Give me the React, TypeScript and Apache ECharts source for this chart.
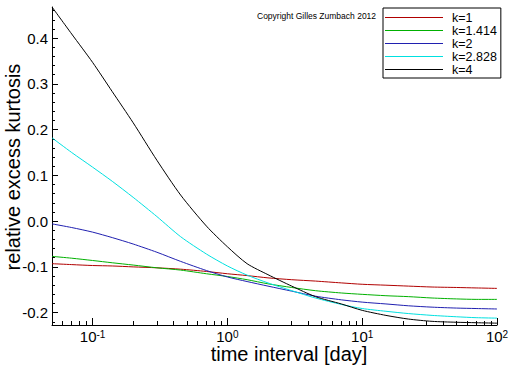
import React, { useEffect, useRef } from "react";
import * as echarts from "echarts";

const FONT = "'Liberation Sans', Arial, Helvetica, sans-serif";

// time interval [day]
const times = [0.05, 0.07, 0.1, 0.14, 0.2, 0.3, 0.45, 0.7, 1, 1.4, 2, 3, 4.5, 7, 10, 15, 22, 33, 50, 70, 100];

const k1 = [-0.093, -0.095, -0.097, -0.098, -0.1, -0.102, -0.105, -0.11, -0.115, -0.119, -0.124, -0.128, -0.131, -0.135, -0.138, -0.14, -0.142, -0.144, -0.145, -0.146, -0.147];
const k1414 = [-0.077, -0.081, -0.086, -0.091, -0.096, -0.102, -0.107, -0.115, -0.121, -0.128, -0.137, -0.145, -0.152, -0.157, -0.16, -0.163, -0.165, -0.168, -0.17, -0.171, -0.171];
const k2 = [-0.006, -0.014, -0.024, -0.036, -0.05, -0.068, -0.088, -0.108, -0.122, -0.132, -0.142, -0.153, -0.164, -0.172, -0.177, -0.181, -0.185, -0.188, -0.19, -0.191, -0.192];
const k2828 = [0.182, 0.15, 0.118, 0.087, 0.052, 0.01, -0.034, -0.072, -0.098, -0.118, -0.135, -0.152, -0.168, -0.182, -0.191, -0.197, -0.202, -0.206, -0.209, -0.211, -0.212];
const k4 = [0.468, 0.409, 0.347, 0.283, 0.215, 0.133, 0.057, -0.011, -0.056, -0.093, -0.117, -0.142, -0.165, -0.181, -0.195, -0.206, -0.214, -0.219, -0.221, -0.222, -0.223];

const seriesNames = ["k=1", "k=1.414", "k=2", "k=2.828", "k=4"];
const seriesValues = [k1, k1414, k2, k2828, k4];
const seriesColors = ["#b00000", "#00b000", "#2020b0", "#00e0e0", "#000000"];

const xDecades = [-1, 0, 1, 2]; // tick labels 10^-1 .. 10^2
const yLabels = [-0.2, -0.1, 0.0, 0.1, 0.2, 0.3, 0.4];

const X_MIN = 0.05;
const X_MAX = 100;
const Y_MIN = -0.227;
const Y_MAX = 0.468;

export default function App() {
  const ref = useRef<HTMLDivElement>(null);

  useEffect(() => {
    if (!ref.current) return;
    const chart = echarts.init(ref.current, undefined, { renderer: "svg" });

    const xMin = Math.log10(X_MIN);
    const xMax = Math.log10(X_MAX);

    const xMinor: number[] = [];
    for (let d = -2; d <= 1; d++) {
      for (let m = 2; m <= 9; m++) {
        const v = Math.log10(m * Math.pow(10, d));
        if (v > xMin && v < xMax) xMinor.push(v);
      }
    }
    const yMinor: number[] = [];
    for (let i = -11; i <= 23; i++) {
      const v = Math.round(i * 0.02 * 1000) / 1000;
      if (v >= Y_MIN && v <= Y_MAX) yMinor.push(v);
    }

    const axisLineStyle = { color: "#000", width: 1 };

    chart.setOption({
      animation: false,
      backgroundColor: "#fff",
      grid: { left: 52, right: 15, top: 7, bottom: 41, containLabel: false },
      legend: {
        orient: "vertical",
        left: 383,
        top: 8,
        padding: [3, 4, 2, 2],
        icon: "rect",
        itemWidth: 58,
        itemHeight: 1,
        itemGap: 0,
        borderColor: "#000",
        borderWidth: 1,
        borderRadius: 0,
        backgroundColor: "#fff",
        itemStyle: { borderWidth: 0 },
        data: seriesNames.map((name, i) => ({
          name,
          itemStyle: { color: seriesColors[i], borderWidth: 0 },
        })),
        textStyle: {
          fontFamily: FONT,
          fontSize: 12.5,
          lineHeight: 13,
          color: "#000",
          padding: [0, 0, 0, 4],
        },
      },
      xAxis: [
        {
          type: "value",
          min: xMin,
          max: xMax,
          position: "bottom",
          axisLine: { show: true, onZero: false, lineStyle: axisLineStyle },
          axisTick: { show: true, inside: true, length: 7, customValues: xDecades, lineStyle: axisLineStyle },
          splitLine: { show: false },
          axisLabel: {
            show: true,
            margin: 4,
            customValues: xDecades,
            formatter: (v: number) => `{b|10}{s|${Math.round(v)}}`,
            rich: {
              b: { fontFamily: FONT, fontSize: 15, lineHeight: 14, color: "#000" },
              s: { fontFamily: FONT, fontSize: 10, lineHeight: 8, verticalAlign: "top", color: "#000" },
            },
          },
        },
        {
          type: "value",
          min: xMin,
          max: xMax,
          position: "bottom",
          axisLine: { show: false, onZero: false },
          axisTick: { show: true, inside: true, length: 4, customValues: xMinor, lineStyle: axisLineStyle },
          axisLabel: { show: false },
          splitLine: { show: false },
        },
      ],
      yAxis: [
        {
          type: "value",
          min: Y_MIN,
          max: Y_MAX,
          position: "left",
          axisLine: { show: true, onZero: false, lineStyle: axisLineStyle },
          axisTick: { show: true, inside: true, length: 6, customValues: yLabels, lineStyle: axisLineStyle },
          splitLine: { show: false },
          axisLabel: {
            show: true,
            margin: 4,
            customValues: yLabels,
            formatter: (v: number) => v.toFixed(1),
            fontFamily: FONT,
            fontSize: 15,
            color: "#000",
          },
        },
        {
          type: "value",
          min: Y_MIN,
          max: Y_MAX,
          position: "left",
          offset: 0,
          axisLine: { show: false, onZero: false },
          axisTick: { show: true, inside: true, length: 3, customValues: yMinor, lineStyle: axisLineStyle },
          axisLabel: { show: false },
          splitLine: { show: false },
        },
      ],
      series: seriesNames.map((name, i) => ({
        name,
        type: "line",
        xAxisIndex: 0,
        yAxisIndex: 0,
        symbol: "none",
        showSymbol: false,
        smooth: 0.25,
        lineStyle: { color: seriesColors[i], width: 1 },
        itemStyle: { color: seriesColors[i] },
        data: times.map((t, j) => [Math.log10(t), seriesValues[i][j]]),
      })),
      graphic: [
        {
          type: "text",
          x: 257,
          y: 16,
          style: {
            text: "Copyright Gilles Zumbach 2012",
            fontFamily: FONT,
            fontSize: 8.5,
            fill: "#000",
            align: "left",
            verticalAlign: "middle",
          },
        },
        {
          type: "text",
          x: 289,
          y: 354,
          style: {
            text: "time interval [day]",
            fontFamily: FONT,
            fontSize: 20,
            fill: "#000",
            align: "center",
            verticalAlign: "middle",
          },
        },
        {
          type: "text",
          x: 13,
          y: 167,
          rotation: Math.PI / 2,
          style: {
            text: "relative excess kurtosis",
            fontFamily: FONT,
            fontSize: 20,
            fill: "#000",
            align: "center",
            verticalAlign: "middle",
          },
        },
      ],
    });

    return () => chart.dispose();
  }, []);

  return <div ref={ref} style={{ width: 512, height: 366, position: "absolute", left: 0, top: 0 }} />;
}
